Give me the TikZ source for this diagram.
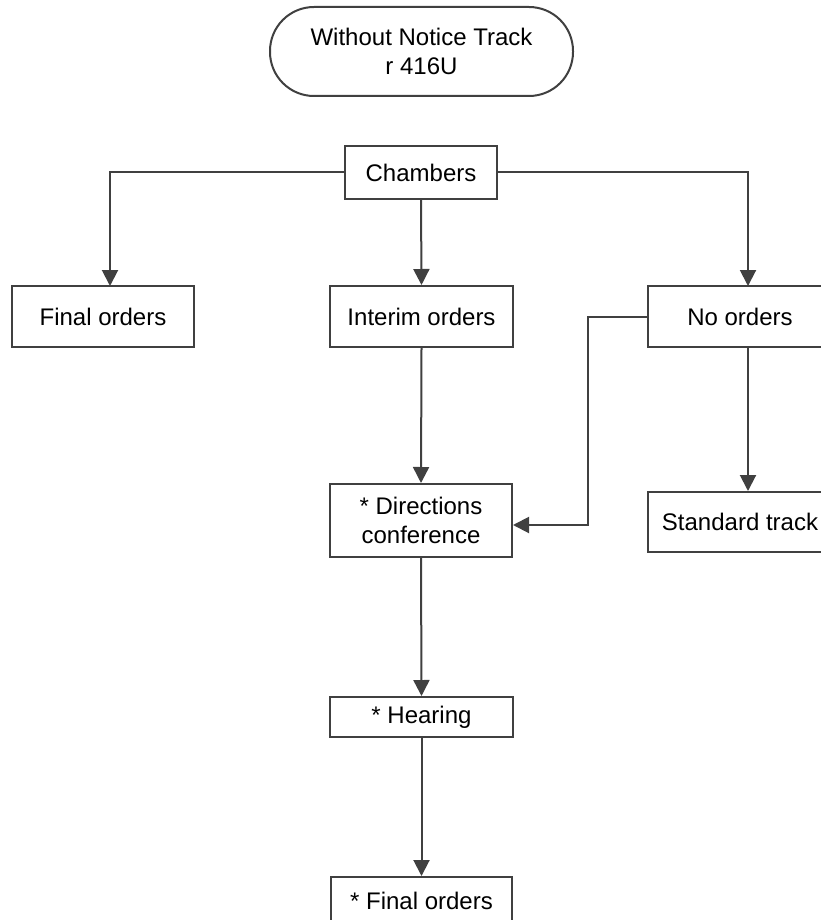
\documentclass[tikz,border=0pt]{standalone}
\usepackage{fontspec}
\setmainfont{Liberation Sans}
\usetikzlibrary{arrows.meta,calc}
\definecolor{ln}{HTML}{404040}
\tikzset{
  box/.style={draw=ln, line width=2pt, rectangle, fill=white, align=center, inner sep=0pt,
    font=\fontsize{24}{29}\selectfont},
  arr/.style={draw=ln, line width=2pt, -{Triangle[length=16pt,width=16pt]}},
}
\begin{document}
\begin{tikzpicture}[x=1pt,y=-1pt]
\path[use as bounding box, clip] (0,0) rectangle (821,920);
\fill[white] (0,0) rectangle (821,920);
\node[box, rounded corners=44pt, minimum width=303pt, minimum height=89pt] (top) at (421.5,51.5) {Without Notice Track\\r 416U};
\node[box, minimum width=152pt, minimum height=53pt] (chambers) at (421,172.5) {Chambers};
\node[box, minimum width=182pt, minimum height=61pt] (finalL) at (103,316.5) {Final orders};
\node[box, minimum width=183pt, minimum height=61pt] (interim) at (421.5,316.5) {Interim orders};
\node[box, minimum width=184pt, minimum height=61pt] (noorders) at (740,316.5) {No orders};
\node[box, minimum width=182pt, minimum height=73pt] (directions) at (421,520.5) {* Directions\\conference};
\node[box, minimum width=184pt, minimum height=60pt] (standard) at (740,522) {Standard track};
\node[box, minimum width=183pt, minimum height=40pt] (hearing) at (421.5,717) {* Hearing};
\node[box, minimum width=181pt, minimum height=48pt] (finalB) at (421.5,901) {* Final orders};
\coordinate (fl) at (110,286);
\coordinate (nl) at (748,286);
\coordinate (nb) at (748,347);
\coordinate (k) at (588,525);
\draw[arr] (chambers.south) -- (interim.north);
\draw[arr] (chambers.west) -| (fl);
\draw[arr] (chambers.east) -| (nl);
\draw[arr] (interim.south) -- (directions.north);
\draw[arr] (noorders.west) -| (k) -- (k -| directions.east);
\draw[arr] (nb) -- (nb |- standard.north);
\draw[arr] (directions.south) -- (hearing.north);
\draw[arr] (hearing.south) -- (finalB.north);
\end{tikzpicture}
\end{document}
